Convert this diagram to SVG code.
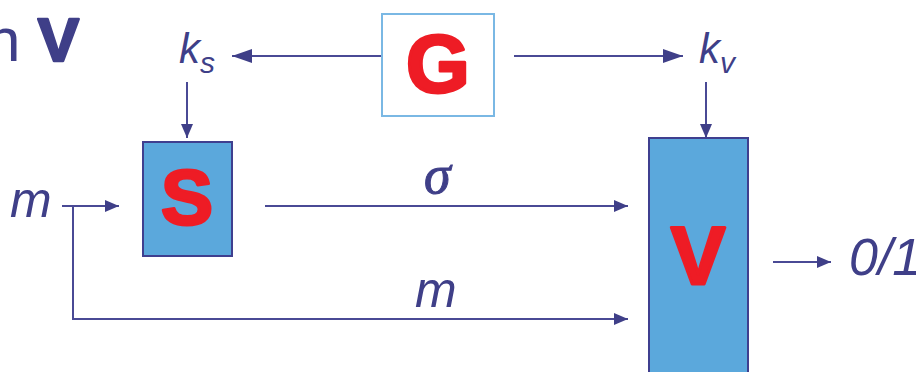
<svg xmlns="http://www.w3.org/2000/svg" width="916" height="372" viewBox="0 0 916 372">
<defs>
<style>
.c{stroke:#4a4a95;stroke-width:2;fill:none}
.lbl{font-family:"Liberation Sans",Arial,sans-serif;font-style:italic;fill:#3f3f88}
.big{font-family:"Liberation Sans",Arial,sans-serif;font-weight:bold;fill:#ee1c25;stroke:#ee1c25;stroke-width:3;stroke-linejoin:round;text-anchor:middle}
.box{fill:#5ba8dc;stroke:#3f3f8f;stroke-width:2}
</style>
<marker id="ah" viewBox="0 0 20 14" refX="20" refY="7" markerWidth="20" markerHeight="14" markerUnits="userSpaceOnUse" orient="auto">
<path d="M0,0 L20,7 L0,14 z" fill="#3f3f88"/>
</marker>
<marker id="as" viewBox="0 0 14 12" refX="14" refY="6" markerWidth="14" markerHeight="12" markerUnits="userSpaceOnUse" orient="auto">
<path d="M0,0 L14,6 L0,12 z" fill="#3f3f88"/>
</marker>
</defs>
<rect width="916" height="372" fill="#fff"/>
<g id="title">
<text x="-14" y="61" font-family="Liberation Sans,Arial,sans-serif" font-size="62" fill="#3f3f88">n <tspan font-weight="bold" stroke="#3f3f88" stroke-width="2.5" stroke-linejoin="round">V</tspan></text>
</g>
<g id="connectors">
<line class="c" x1="382" y1="56" x2="232" y2="56" marker-end="url(#ah)"/>
<line class="c" x1="514" y1="56" x2="683" y2="56" marker-end="url(#ah)"/>
<line class="c" x1="187" y1="82" x2="187" y2="138" marker-end="url(#as)"/>
<line class="c" x1="706" y1="82" x2="706" y2="138" marker-end="url(#as)"/>
<line class="c" x1="62" y1="206" x2="119" y2="206" marker-end="url(#as)"/>
<polyline class="c" points="73,206 73,319 628,319" marker-end="url(#as)"/>
<line class="c" x1="265" y1="206" x2="628" y2="206" marker-end="url(#as)"/>
<line class="c" x1="773" y1="262" x2="831" y2="262" marker-end="url(#as)"/>
</g>
<g id="G">
<rect x="382" y="14" width="112" height="102" fill="#fff" stroke="#7ab8e4" stroke-width="2"/>
<text class="big" x="438" y="92" font-size="82">G</text>
</g>
<g id="S">
<rect class="box" x="143" y="142" width="89" height="114"/>
<text class="big" x="187" y="224" font-size="78">S</text>
</g>
<g id="V">
<rect class="box" x="649" y="138" width="99" height="250"/>
<text class="big" x="698" y="284" font-size="82">V</text>
</g>
<g id="labels">
<text class="lbl" x="179" y="63" font-size="42">k<tspan font-size="30" dy="10">s</tspan></text>
<text class="lbl" x="699" y="63" font-size="42">k<tspan font-size="30" dy="10">v</tspan></text>
<text class="lbl" x="10" y="217" font-size="50">m</text>
<text x="424" y="193" font-family="Liberation Serif,'Times New Roman',serif" font-style="italic" font-size="54" fill="#3f3f88" stroke="#3f3f88" stroke-width="1">σ</text>
<text class="lbl" x="415" y="307" font-size="50">m</text>
<text class="lbl" x="849" y="275" font-size="52">0/1</text>
</g>
</svg>
